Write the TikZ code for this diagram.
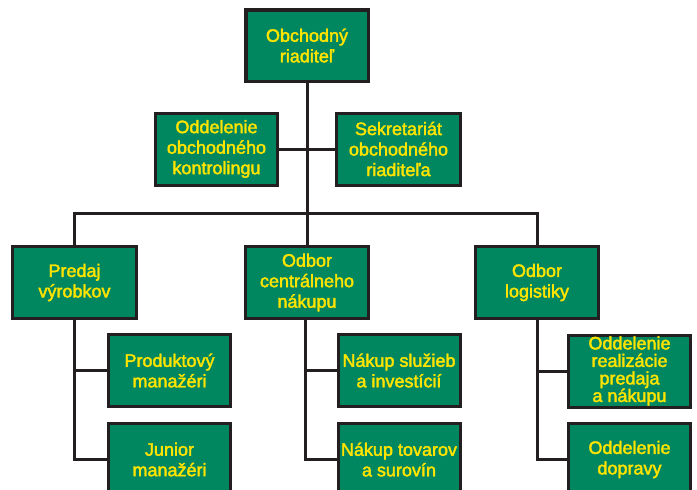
\documentclass[tikz,border=0pt]{standalone}
\usepackage{fontspec}
\newfontfamily\boxfont[FakeBold=2.2]{Liberation Sans}
\definecolor{boxgreen}{HTML}{00875F}
\definecolor{boxyellow}{HTML}{FFE400}
\definecolor{linedark}{HTML}{231F20}
\tikzset{
  orgbox/.style={draw=linedark, line width=3pt, fill=boxgreen, text=boxyellow,
    minimum width=122pt, minimum height=72pt, inner sep=0pt, align=center,
    font=\boxfont\fontsize{18}{20.5}\selectfont},
  topbox/.style={orgbox, line width=3.5pt, minimum width=122.5pt, minimum height=71.5pt},
  conn/.style={draw=linedark, line width=3pt, line join=miter}
}
\begin{document}
\begin{tikzpicture}[x=1pt,y=-1pt]
\useasboundingbox (0,0) rectangle (697,490);
\clip (0,0) rectangle (697,490);
\coordinate (bus) at (307,213);
\node[topbox] (top) at (307,45.5) {Obchodný\\riaditeľ};
\node[orgbox, minimum width=122pt] (ctrl) at (216.5,149) {Oddelenie\\obchodného\\kontrolingu};
\node[orgbox, minimum width=124pt] (sekr) at (398.5,149) {Sekretariát\\obchodného\\riaditeľa};
\node[orgbox, minimum width=124pt] (predaj) at (74.5,282.5) {Predaj\\výrobkov};
\node[orgbox, minimum width=123pt] (central) at (307,282.5) {Odbor\\centrálneho\\nákupu};
\node[orgbox, minimum width=123pt] (logist) at (537,282.5) {Odbor\\logistiky};
\node[orgbox] (prod) at (169.5,370.5) {Produktový\\manažéri};
\node[orgbox] (junior) at (169.5,459.5) {Junior\\manažéri};
\node[orgbox] (sluzby) at (399,370.5) {Nákup služieb\\a investícií};
\node[orgbox] (tovary) at (399,459.5) {Nákup tovarov\\a surovín};
\node[orgbox, font=\boxfont\fontsize{18}{17.5}\selectfont] (realiz) at (629.5,371) {Oddelenie\\realizácie\\predaja\\a nákupu};
\node[orgbox] (doprava) at (629.5,459.5) {Oddelenie\\dopravy};
\draw[conn] (top.south) -- (central.north);
\draw[conn] (ctrl.east) -- (ctrl.east -| top.south);
\draw[conn] (sekr.west) -- (sekr.west -| top.south);
\draw[conn] (predaj.north) |- (bus) -| (logist.north);
\draw[conn] (predaj.south) |- (junior.west);
\draw[conn] (predaj.south |- prod.west) -- (prod.west);
\coordinate (cbase) at ([xshift=-2pt]central.south);
\draw[conn] (cbase) |- (tovary.west);
\draw[conn] (cbase |- sluzby.west) -- (sluzby.west);
\draw[conn] (logist.south) |- (doprava.west);
\draw[conn] (logist.south |- realiz.west) -- (realiz.west);
\end{tikzpicture}
\end{document}
